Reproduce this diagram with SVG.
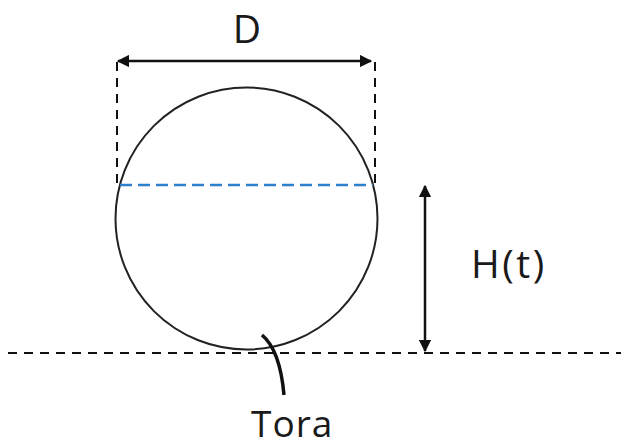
<svg xmlns="http://www.w3.org/2000/svg" width="621" height="447" viewBox="0 0 621 447">
<defs>
<style>
.lbl{font-family:"Open Sans","Noto Sans",sans-serif;font-size:39px;fill:#1a1a1a}
.dash{stroke:#111;stroke-width:2;fill:none;stroke-dasharray:9 7}
.arr{stroke:#111;stroke-width:2.5;fill:none}
</style>
<marker id="ah" viewBox="0 0 10 10" refX="9" refY="5" markerWidth="5" markerHeight="5" orient="auto-start-reverse" markerUnits="strokeWidth">
<path d="M0,0 L10,5 L0,10 z" fill="#111"/>
</marker>
</defs>
<rect width="621" height="447" fill="#fff"/>
<g id="circle">
<circle cx="246.5" cy="218.5" r="131" fill="none" stroke="#222" stroke-width="2"/>
</g>
<g id="level">
<line x1="120" y1="185" x2="373" y2="185" stroke="#2F80CC" stroke-width="2.5" stroke-dasharray="12 6"/>
</g>
<g id="ground">
<line class="dash" x1="8" y1="353" x2="621" y2="353"/>
</g>
<g id="connectors">
<line class="dash" x1="117" y1="62" x2="117" y2="185"/>
<line class="dash" x1="375" y1="62" x2="375" y2="185"/>
<line class="arr" x1="118" y1="61" x2="371" y2="61" marker-start="url(#ah)" marker-end="url(#ah)"/>
<line class="arr" x1="425" y1="186" x2="425" y2="351" marker-start="url(#ah)" marker-end="url(#ah)"/>
<path d="M262,335 Q280,350 284,395" stroke="#111" stroke-width="3.5" fill="none"/>
</g>
<g id="label-D"><text class="lbl" x="247" y="43" text-anchor="middle">D</text></g>
<g id="label-H"><text class="lbl" x="471" y="278" letter-spacing="2.5">H(t)</text></g>
<g id="label-Tora"><text class="lbl" x="251" y="437" style="font-size:37px" letter-spacing="1">Tora</text></g>
</svg>
